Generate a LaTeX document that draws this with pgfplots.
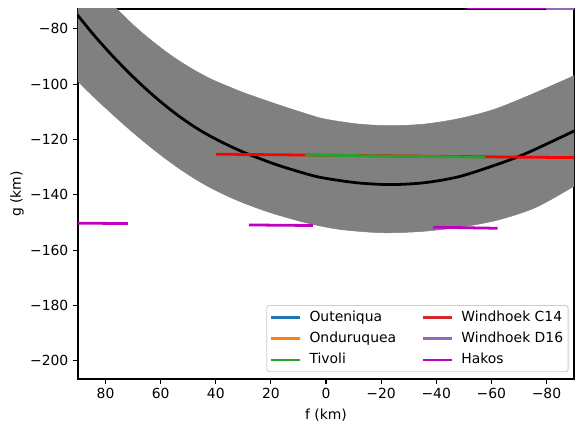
\documentclass[border=0pt]{standalone}
\usepackage{fontspec}
\setmainfont{DejaVu Sans}
\usepackage{pgfplots}
\pgfplotsset{compat=1.18}
\usepgfplotslibrary{fillbetween}
\definecolor{tabblue}{HTML}{1F77B4}
\definecolor{taborange}{HTML}{FF7F0E}
\definecolor{tabgreen}{HTML}{2CA02C}
\definecolor{tabred}{HTML}{D62728}
\definecolor{tabpurple}{HTML}{9467BD}
\definecolor{hakos}{HTML}{BF00BF}
\definecolor{bandgray}{HTML}{808080}
\begin{document}
\fontsize{13.9}{16.7}\selectfont
\begin{tikzpicture}
\begin{axis}[
  name=ax,
  scale only axis, width=496pt, height=370pt,
  x dir=reverse, xmin=-90, xmax=90, ymin=-206.6, ymax=-72.8,
  xtick={-80,-60,-40,-20,0,20,40,60,80},
  xticklabels={−80,−60,−40,−20,0,20,40,60,80},
  ytick={-200,-180,-160,-140,-120,-100,-80},
  yticklabels={−200,−180,−160,−140,−120,−100,−80},
  tick align=outside, tick pos=left, major tick length=4.86pt,
  every tick/.style={black, line width=1.1pt},
  axis line style={line width=1.1pt},
  ticklabel style={font=\fontsize{13.9}{16.7}\selectfont},
  label style={font=\fontsize{13.9}{16.7}\selectfont},
  xlabel={f (km)}, ylabel={g (km)},
  every axis x label/.style={at={(rel axis cs:0.5,0)}, yshift=-35.7pt, anchor=center},
  every axis y label/.style={at={(rel axis cs:0,0.5)}, xshift=-61pt, rotate=90, anchor=center},
  legend columns=2,
  legend cell align=left,
  legend style={at={(rel axis cs:1,0)}, anchor=south east, xshift=-5.5pt, yshift=6.9pt,
    font=\fontsize{13.9}{16.7}\selectfont, draw=black!20, rounded corners=2.5pt,
    fill=white, fill opacity=0.8, text opacity=1, line width=0.8pt,
    inner sep=3pt, row sep=3.8pt,
    nodes={inner sep=2pt, text height=10.5pt, text depth=3pt},
    /tikz/every odd column/.append style={column sep=6.5pt},
    /tikz/every even column/.append style={column sep=23.5pt}},
  legend image code/.code={\draw[#1, line width=2.78pt] (0pt,0pt) -- (28.5pt,0pt);},
]
% gray ensemble band
\addplot[name path=U, draw=bandgray, line width=0.5pt, smooth, forget plot] coordinates {
 (95,-50.0) (90,-56.3) (84,-63.5) (80,-68.2) (76.1,-72.6) (70,-78.5) (65.8,-82.2)
 (60,-86.8) (54.9,-90.5) (48,-94.8) (41.6,-98.2) (35,-101.0) (29.5,-103.2)
 (17.4,-107.4) (6.5,-110.9) (0.4,-112.6) (-11.7,-114.4) (-23.8,-115.0)
 (-35.9,-114.4) (-48,-112.5) (-60.1,-109.4) (-72.2,-104.7) (-90.3,-96.8) (-95,-94.4)};
\addplot[name path=L, draw=bandgray, line width=0.5pt, smooth, forget plot] coordinates {
 (95,-93.8) (90,-99.0) (84,-104.9) (77.9,-110.5) (72,-115.8) (65.8,-121.0) (60,-125.6)
 (53.7,-130.2) (47.6,-134.2) (41.6,-137.6) (35,-140.8) (29.5,-143.1) (23,-145.5)
 (17.4,-147.3) (6.5,-150.3) (-5,-152.5) (-20,-153.7) (-34,-153.3) (-48,-151.8)
 (-62,-149.2) (-76,-144.6) (-90.3,-136.7) (-95,-133.5)};
\addplot[bandgray, forget plot] fill between[of=U and L];
% mean curve
\addplot[black, line width=2.78pt, smooth, forget plot] coordinates {
 (95,-69.0) (90,-75.2) (84,-82.5) (77.9,-89.3) (71.8,-95.6) (65.8,-101.3) (59.7,-106.6)
 (53.7,-111.3) (47.6,-115.5) (41.6,-119.0) (34.6,-122.5) (27.7,-125.5) (17.4,-129.3)
 (6.5,-132.6) (0.4,-134.0) (-11.7,-135.7) (-23.8,-136.3) (-35.9,-135.6) (-48,-133.5)
 (-60.1,-129.7) (-72.2,-125.2) (-90.3,-116.8) (-95,-114.4)};
% Windhoek C14
\addplot[red, line width=2.78pt, forget plot] coordinates {(40,-125.3) (-95,-126.6)};
% Tivoli
\addplot[tabgreen, line width=2.78pt, forget plot] coordinates {(7.6,-125.6) (-57.8,-126.4)};
% Windhoek D16 / Hakos near top
\addplot[hakos, line width=2.78pt, forget plot] coordinates {(-51,-72.3) (-95,-72.3)};
\addplot[tabpurple, line width=2.78pt, forget plot] coordinates {(-80,-72.5) (-95,-72.5)};
% Hakos
\addplot[hakos, line width=2.78pt, forget plot] coordinates {(95,-150.2) (71.9,-150.4)};
\addplot[hakos, line width=2.78pt, forget plot] coordinates {(28.0,-150.9) (4.8,-151.1)};
\addplot[hakos, line width=2.78pt, forget plot] coordinates {(-38.9,-151.7) (-62.3,-152.1)};
% legend (row-wise order)
\addlegendimage{tabblue}\addlegendentry{Outeniqua}
\addlegendimage{tabred}\addlegendentry{Windhoek C14}
\addlegendimage{taborange}\addlegendentry{Onduruquea}
\addlegendimage{tabpurple}\addlegendentry{Windhoek D16}
\addlegendimage{tabgreen}\addlegendentry{Tivoli}
\addlegendimage{hakos}\addlegendentry{Hakos}
\end{axis}
\path ([shift={(-78pt,-53pt)}]ax.south west) ([shift={(9pt,9pt)}]ax.north east);
\end{tikzpicture}
\end{document}
